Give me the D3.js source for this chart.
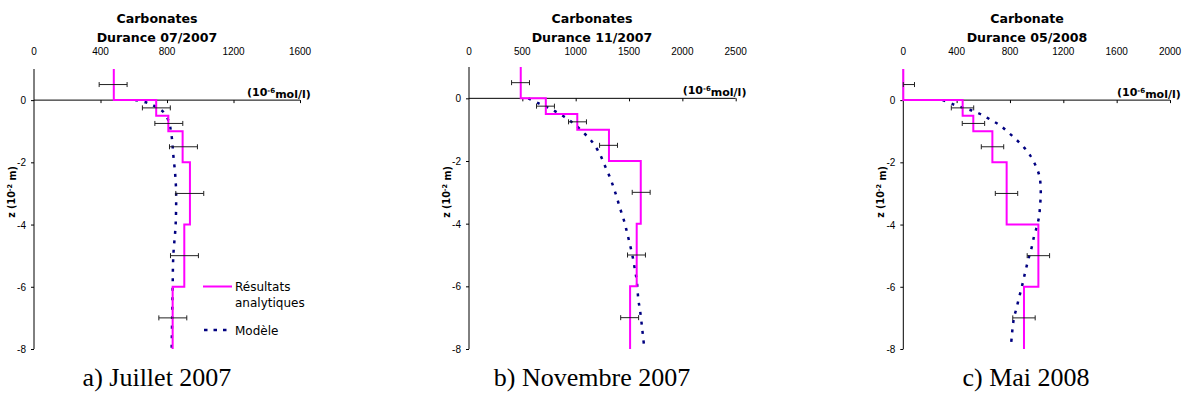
<!DOCTYPE html>
<html>
<head>
<meta charset="utf-8">
<script src="https://cdn.jsdelivr.net/npm/d3@7"></script>
<style>
  html, body { margin: 0; padding: 0; background: #fff; }
  svg { display: block; }
</style>
</head>
<body>
<svg id="chart" width="1190" height="398"></svg>
<script>
// ---------------- DATA ----------------
// depth boundaries of the analytical layers (10^-2 m)
const layerBounds = [1, 0, -0.5, -1, -2, -4, -6, -8];
// analytical step values per layer (10^-6 mol/l)
const stepsJul2007 = [480, 735, 808, 894, 938, 904, 834];
const stepsNov2007 = [485, 720, 1015, 1312, 1610, 1572, 1510];
const stepsMay2008 = [0, 445, 525, 668, 775, 1013, 905];

// measurement points with error bars
const errDepths = [0.5, -0.25, -0.75, -1.5, -3, -5, -7];
const errJul2007 = [476, 736, 811, 899, 937, 905, 835];
const errNov2007 = [483, 717, 1017, 1308, 1614, 1570, 1506];
const errMay2008 = [0, 444, 526, 669, 774, 1013, 905];
const errHalfWidth = 84;

// model profiles
const modelDepthJul2007 = [0, -0.07, -0.2, -0.38, -0.7, -1.02, -1.34, -1.66, -1.98, -2.3, -2.6, -3, -4, -5, -6, -7, -8];
const modelJul2007 = [608, 672, 728, 778, 812, 824, 832, 836, 842, 848, 852, 855, 852, 838, 834, 831, 828];

const modelDepthNov2007 = [0, -0.16, -0.3, -0.46, -0.64, -0.82, -1.07, -1.33, -1.6, -1.86, -2.16, -2.48, -2.82, -3.19, -3.51, -3.83, -4.15, -4.5, -5, -5.48, -5.8, -6.44, -6.76, -7.4, -8];
const modelNov2007 = [556, 653, 744, 831, 916, 988, 1066, 1141, 1197, 1238, 1275, 1316, 1353, 1388, 1416, 1447, 1472, 1497, 1531, 1556, 1572, 1588, 1603, 1625, 1644];

const modelDepthMay2008 = [0, -0.13, -0.24, -0.34, -0.47, -0.64, -0.81, -1.04, -1.26, -1.52, -1.77, -2.11, -2.43, -2.77, -3.1, -3.43, -3.75, -4.09, -4.39, -4.73, -5.03, -5.37, -5.7, -6.02, -6.35, -6.67, -7, -7.3, -7.63, -7.96];
const modelMay2008 = [295, 370, 445, 518, 588, 658, 725, 788, 845, 905, 950, 993, 1020, 1030, 1030, 1025, 1018, 1000, 980, 963, 943, 923, 905, 888, 868, 850, 830, 820, 813, 805];

// axis ticks
const xTicksJul2007 = [0, 400, 800, 1200, 1600];
const xTicksNov2007 = [0, 500, 1000, 1500, 2000, 2500];
const xTicksMay2008 = [0, 400, 800, 1200, 1600, 2000];
const yTicks = [0, -2, -4, -6, -8];

// texts
const titlesLine1 = ["Carbonates", "Carbonates", "Carbonate"];
const titlesLine2 = ["Durance 07/2007", "Durance 11/2007", "Durance 05/2008"];
const captions = ["a) Juillet 2007", "b) Novembre 2007", "c) Mai 2008"];
const legendLabels = [["Résultats", "analytiques"], ["Modèle"]];

// ---------------- LAYOUT ----------------
const panels = [
  { x0: 34, x1: 300, y0: 349, y1: 69, xmax: 1600, xticks: xTicksJul2007, steps: stepsJul2007, err: errJul2007, mz: modelDepthJul2007, mv: modelJul2007, cx: 157, capx: 157, legend: true },
  { x0: 469, x1: 735.7, y0: 349, y1: 67, xmax: 2500, xticks: xTicksNov2007, steps: stepsNov2007, err: errNov2007, mz: modelDepthNov2007, mv: modelNov2007, cx: 592, capx: 592, legend: false },
  { x0: 903.3, x1: 1170, y0: 349, y1: 69, xmax: 2000, xticks: xTicksMay2008, steps: stepsMay2008, err: errMay2008, mz: modelDepthMay2008, mv: modelMay2008, cx: 1027, capx: 1026, legend: false }
];

const MAGENTA = "#ff00ff";
const NAVY = "#000080";
const SANS = "'DejaVu Sans', Verdana, sans-serif";
const NUMF = "'Liberation Sans', Arial, sans-serif";
const SERIF = "'Liberation Serif', 'Times New Roman', serif";

const svg = d3.select("#chart");

panels.forEach((p, i) => {
  const x = d3.scaleLinear().domain([0, p.xmax]).range([p.x0, p.x1]);
  const y = d3.scaleLinear().domain([-8, 1]).range([p.y0, p.y1]);
  const g = svg.append("g");

  // titles
  g.append("text").attr("x", p.cx).attr("y", 22.5).attr("text-anchor", "middle")
    .style("font-family", SANS).style("font-weight", "bold").style("font-size", "12.6px")
    .text(titlesLine1[i]);
  g.append("text").attr("x", p.cx).attr("y", 41.5).attr("text-anchor", "middle")
    .style("font-family", SANS).style("font-weight", "bold").style("font-size", "12.6px")
    .text(titlesLine2[i]);

  // x tick labels (top)
  g.selectAll(".xl").data(p.xticks).enter().append("text")
    .attr("x", d => x(d)).attr("y", 55).attr("text-anchor", "middle")
    .style("font-family", NUMF).style("font-size", "10px").text(d => d);

  // x axis at z = 0 with ticks pointing down
  const xAxis = d3.axisBottom(x).tickValues(p.xticks.filter(d => d > 0)).tickSize(3).tickFormat("");
  const xg = g.append("g").attr("transform", `translate(0,${y(0)})`).call(xAxis);
  xg.select(".domain").attr("d", `M${p.x0},0H${p.x1}`).attr("stroke", "#000");
  xg.selectAll(".tick line").attr("stroke", "#000");

  // y axis
  const yAxis = d3.axisLeft(y).tickValues(yTicks).tickSize(3).tickFormat(d => d);
  const yg = g.append("g").attr("transform", `translate(${p.x0},0)`).call(yAxis);
  yg.select(".domain").attr("d", `M0,${p.y1}V${p.y0}`).attr("stroke", "#000");
  yg.selectAll(".tick line").attr("stroke", "#000");
  yg.selectAll(".tick text").attr("x", -8).attr("dy", "0.35em")
    .style("font-family", NUMF).style("font-size", "10px").attr("fill", "#000");

  // y axis title
  const yt = g.append("text")
    .attr("transform", `translate(${p.x0 - 19},192) rotate(-90)`)
    .attr("text-anchor", "middle")
    .style("font-family", SANS).style("font-weight", "bold").style("font-size", "9.6px");
  yt.append("tspan").text("z (10");
  yt.append("tspan").attr("dy", "-0.45em").style("font-size", "6.5px").text("-2");
  yt.append("tspan").attr("dy", "0.45em").text(" m)");

  // unit label
  const ul = g.append("text").attr("x", p.x1 - 53).attr("y", y(0) - 4)
    .style("font-family", SANS).style("font-weight", "bold").style("font-size", "11px");
  ul.append("tspan").text("(10");
  ul.append("tspan").attr("dy", "-0.5em").style("font-size", "7px").text("-6");
  ul.append("tspan").attr("dy", "0.5em").text("mol/l)");

  // model dashed line
  const modelPts = p.mz.map((z, k) => [p.mv[k], z]);
  const line = d3.line().x(d => x(d[0])).y(d => y(d[1])).curve(d3.curveCatmullRom);
  g.append("path").datum(modelPts).attr("d", line)
    .attr("fill", "none").attr("stroke", NAVY).attr("stroke-width", 2.5)
    .attr("stroke-dasharray", "3,6.5");

  // analytical step line
  const stepPts = [];
  p.steps.forEach((v, k) => {
    stepPts.push([v, layerBounds[k]]);
    stepPts.push([v, layerBounds[k + 1]]);
  });
  const sline = d3.line().x(d => x(d[0])).y(d => y(d[1]));
  g.append("path").datum(stepPts).attr("d", sline)
    .attr("fill", "none").attr("stroke", MAGENTA).attr("stroke-width", 2);

  // error bars
  const eb = g.selectAll(".eb").data(errDepths.map((z, k) => ({ z, v: p.err[k] }))).enter().append("g");
  eb.append("line")
    .attr("x1", d => x(Math.max(0, d.v - errHalfWidth))).attr("x2", d => x(d.v + errHalfWidth))
    .attr("y1", d => y(d.z)).attr("y2", d => y(d.z))
    .attr("stroke", "#222").attr("stroke-width", 1);
  eb.append("line")
    .attr("x1", d => x(Math.max(0, d.v - errHalfWidth))).attr("x2", d => x(Math.max(0, d.v - errHalfWidth)))
    .attr("y1", d => y(d.z) - 2.5).attr("y2", d => y(d.z) + 2.5)
    .attr("stroke", "#222").attr("stroke-width", 1);
  eb.append("line")
    .attr("x1", d => x(d.v + errHalfWidth)).attr("x2", d => x(d.v + errHalfWidth))
    .attr("y1", d => y(d.z) - 2.5).attr("y2", d => y(d.z) + 2.5)
    .attr("stroke", "#222").attr("stroke-width", 1);

  // caption
  g.append("text").attr("x", p.capx).attr("y", 386).attr("text-anchor", "middle")
    .style("font-family", SERIF).style("font-size", "26px").text(captions[i]);

  // legend
  if (p.legend) {
    const lg = g.append("g");
    lg.append("line").attr("x1", 203).attr("x2", 232).attr("y1", 286.5).attr("y2", 286.5)
      .attr("stroke", MAGENTA).attr("stroke-width", 2);
    lg.append("text").attr("x", 235).attr("y", 291).style("font-family", SANS).style("font-size", "12px")
      .text(legendLabels[0][0]);
    lg.append("text").attr("x", 235).attr("y", 307).style("font-family", SANS).style("font-size", "12px")
      .text(legendLabels[0][1]);
    lg.append("line").attr("x1", 204).attr("x2", 232).attr("y1", 330).attr("y2", 330)
      .attr("stroke", NAVY).attr("stroke-width", 2.5).attr("stroke-dasharray", "3.5,6");
    lg.append("text").attr("x", 235).attr("y", 335).style("font-family", SANS).style("font-size", "12px")
      .text(legendLabels[1][0]);
  }
});
</script>
</body>
</html>
